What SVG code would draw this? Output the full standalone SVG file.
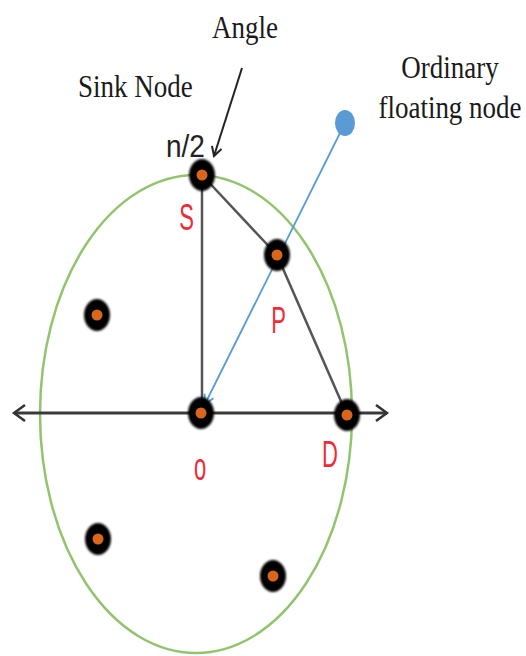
<svg xmlns="http://www.w3.org/2000/svg" width="526" height="656" viewBox="0 0 526 656">
<style>
.lbl{font-family:"Liberation Serif","Times New Roman",serif;font-size:27px;fill:#1a1a1a}
.red{font-family:"Liberation Sans",Arial,sans-serif;font-size:22px;fill:#ec2d38;text-anchor:middle}
.dark{font-family:"Liberation Sans",Arial,sans-serif;font-size:28px;fill:#222}
.outer{fill:#000;filter:url(#soft)}
.inner{fill:#d9661a}
.edge{stroke:#555;stroke-width:2.5;fill:none}
</style>
<defs>
<filter id="soft" x="-30%" y="-30%" width="160%" height="160%"><feGaussianBlur stdDeviation="0.8"/></filter>
<marker id="axisArrow" markerUnits="userSpaceOnUse" markerWidth="16" markerHeight="22" refX="12" refY="9" orient="auto-start-reverse">
<path d="M1,1 L12,9 L1,17" fill="none" stroke="#333" stroke-width="2.5"/>
</marker>
<marker id="blueArrow" markerUnits="userSpaceOnUse" markerWidth="14" markerHeight="14" refX="10" refY="6" orient="auto">
<path d="M1,1 L10,6 L1,11" fill="none" stroke="#5b9bd5" stroke-width="1.8"/>
</marker>
<marker id="blackArrow" markerUnits="userSpaceOnUse" markerWidth="14" markerHeight="14" refX="10" refY="6" orient="auto">
<path d="M1,1 L10,6 L1,11" fill="none" stroke="#222" stroke-width="2"/>
</marker>
</defs>
<rect width="526" height="656" fill="#fff"/>
<ellipse id="range" cx="196" cy="414" rx="156" ry="239" fill="none" stroke="#92c46e" stroke-width="2.5"/>
<g id="connectors">
<line class="edge" x1="202" y1="175" x2="202" y2="413"/>
<line class="edge" x1="202" y1="175" x2="277" y2="255"/>
<line class="edge" x1="277" y1="255" x2="347" y2="415"/>
<line x1="14" y1="413" x2="387" y2="413" stroke="#3a3a3a" stroke-width="3" marker-start="url(#axisArrow)" marker-end="url(#axisArrow)"/>
<line x1="345" y1="123" x2="205" y2="404" stroke="#5b9bd5" stroke-width="1.8" marker-end="url(#blueArrow)"/>
<line x1="242" y1="68" x2="214" y2="156" stroke="#222" stroke-width="2" marker-end="url(#blackArrow)"/>
</g>
<g id="node-S"><ellipse class="outer" cx="202" cy="175" rx="13" ry="16"/><circle class="inner" cx="202" cy="175" r="5.5"/></g>
<g id="node-P"><ellipse class="outer" cx="277" cy="255" rx="13" ry="16"/><circle class="inner" cx="277" cy="255" r="5.5"/></g>
<g id="node-O"><ellipse class="outer" cx="201" cy="413" rx="13" ry="16"/><circle class="inner" cx="201" cy="413" r="5.5"/></g>
<g id="node-D"><ellipse class="outer" cx="347" cy="415" rx="13" ry="16"/><circle class="inner" cx="347" cy="415" r="5.5"/></g>
<g id="node-1"><ellipse class="outer" cx="97" cy="315" rx="13" ry="16"/><circle class="inner" cx="97" cy="315" r="5.5"/></g>
<g id="node-2"><ellipse class="outer" cx="98" cy="539" rx="13" ry="16"/><circle class="inner" cx="98" cy="539" r="5.5"/></g>
<g id="node-3"><ellipse class="outer" cx="273" cy="576" rx="13" ry="16"/><circle class="inner" cx="273" cy="576" r="5.5"/></g>
<g id="node-floating"><ellipse cx="345" cy="123" rx="10" ry="13" fill="#5b9bd5"/></g>
<g id="labels">
<text class="lbl" transform="translate(212,38) scale(1,1.15)">Angle</text>
<text class="lbl" transform="translate(78,97) scale(1,1.15)">Sink Node</text>
<text class="lbl" transform="translate(450,78) scale(1,1.15)" text-anchor="middle" font-size="26">Ordinary</text>
<text class="lbl" transform="translate(450,118) scale(1,1.15)" text-anchor="middle" font-size="26">floating node</text>
<text class="dark" transform="translate(166,157) scale(1,1.15)">n/2</text>
<text class="red" transform="translate(186.5,230) scale(1,1.7)">S</text>
<text class="red" transform="translate(278.5,333) scale(1,1.7)">P</text>
<text class="red" transform="translate(200,480) scale(1,1.8)">o</text>
<text class="red" transform="translate(330,467) scale(1,1.7)">D</text>
</g>
</svg>
